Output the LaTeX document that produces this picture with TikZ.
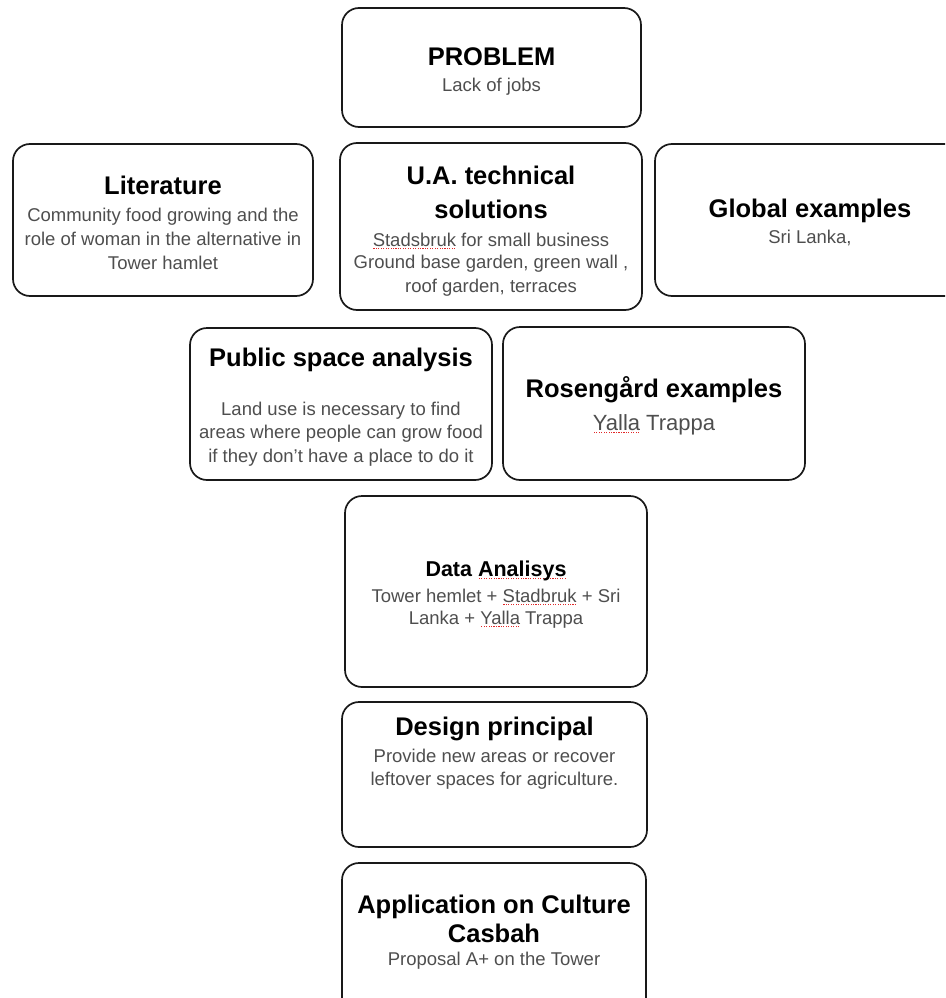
\documentclass[tikz,border=0pt]{standalone}
\usepackage{fontspec}
\setmainfont{Liberation Sans}
\definecolor{bodygray}{RGB}{78,78,78}
\definecolor{spellred}{RGB}{225,40,40}
\newcommand\spellmark[1]{\leavevmode\setbox0\hbox{#1}\rlap{\raisebox{-3.2pt}{\color{spellred}\hbox to \wd0{\xleaders\hbox to 2.4pt{\hss\rule{1.1pt}{1.1pt}\hss}\hfill}}}\copy0\relax}
\begin{document}
\begin{tikzpicture}[x=1pt,y=-1pt,
  box/.style={draw=black!90, line width=1.7pt, rounded corners=17pt, rectangle, inner sep=0pt},
  ttl/.style={font=\fontsize{25.5}{30}\selectfont\bfseries, text=black, inner sep=0pt, anchor=base},
  ttlsm/.style={font=\fontsize{21.5}{26}\selectfont\bfseries, text=black, inner sep=0pt, anchor=base},
  bdy/.style={font=\fontsize{18.5}{22}\selectfont, text=bodygray, inner sep=0pt, anchor=base},
  bdylg/.style={font=\fontsize{22}{26}\selectfont, text=bodygray, inner sep=0pt, anchor=base},
]
\useasboundingbox (0,0) rectangle (945,998);
\clip (0,0) rectangle (945,998);

% boxes
\node[box, minimum width=299pt, minimum height=119pt] (prob) at (491.5,67.5) {};
\node[box, minimum width=300pt, minimum height=152pt] (lit) at (163,220) {};
\node[box, minimum width=302pt, minimum height=167pt] (ua) at (491,226.5) {};
\node[box, minimum width=310pt, minimum height=152pt] (glob) at (810,220) {};
\node[box, minimum width=302pt, minimum height=152pt] (pub) at (341,404) {};
\node[box, minimum width=302pt, minimum height=153pt] (ros) at (654,403.5) {};
\node[box, minimum width=302pt, minimum height=191pt] (data) at (496,591.5) {};
\node[box, minimum width=305pt, minimum height=145pt] (des) at (494.5,774.5) {};
\node[box, minimum width=304pt, minimum height=152pt] (app) at (494,939) {};

% PROBLEM
\node[ttl] (probT) at (491.5,66) {PROBLEM};
\node[bdy] (probB) at (491.5,92) {Lack of jobs};

% Literature
\node[ttl] (litT) at (163,194) {Literature};
\node[bdy] (litB1) at (163,221) {Community food growing and the};
\node[bdy] (litB2) at (163,245) {role of woman in the alternative in};
\node[bdy] (litB3) at (163,269) {Tower hamlet};

% U.A. technical solutions
\node[ttl] (uaT1) at (491,184) {U.A. technical};
\node[ttl] (uaT2) at (491,218) {solutions};
\node[bdy] (uaB1) at (491,246) {\spellmark{Stadsbruk} for small business};
\node[bdy] (uaB2) at (491,268) {Ground base garden, green wall ,};
\node[bdy] (uaB3) at (491,292) {roof garden, terraces};

% Global examples
\node[ttl] (globT) at (810,217) {Global examples};
\node[bdy] (globB) at (810,243) {Sri Lanka,};

% Public space analysis
\node[ttl] (pubT) at (341,366) {Public space analysis};
\node[bdy] (pubB1) at (341,415) {Land use is necessary to find};
\node[bdy] (pubB2) at (341,438) {areas where people can grow food};
\node[bdy] (pubB3) at (341,462) {if they don’t have a place to do it};

% Rosengard examples
\node[ttl] (rosT) at (654,397) {Rosengård examples};
\node[bdylg] (rosB) at (654,430) {\spellmark{Yalla} Trappa};

% Data Analisys
\node[ttlsm] (dataT) at (496,576) {Data \spellmark{Analisys}};
\node[bdy] (dataB1) at (496,602) {Tower hemlet + \spellmark{Stadbruk} + Sri};
\node[bdy] (dataB2) at (496,624) {Lanka + \spellmark{Yalla} Trappa};

% Design principal
\node[ttl] (desT) at (494.5,735) {Design principal};
\node[bdy] (desB1) at (494.5,762) {Provide new areas or recover};
\node[bdy] (desB2) at (494.5,785) {leftover spaces for agriculture.};

% Application
\node[ttl] (appT1) at (494,913) {Application on Culture};
\node[ttl] (appT2) at (494,942) {Casbah};
\node[bdy] (appB) at (494,965) {Proposal A+ on the Tower};
\end{tikzpicture}
\end{document}
